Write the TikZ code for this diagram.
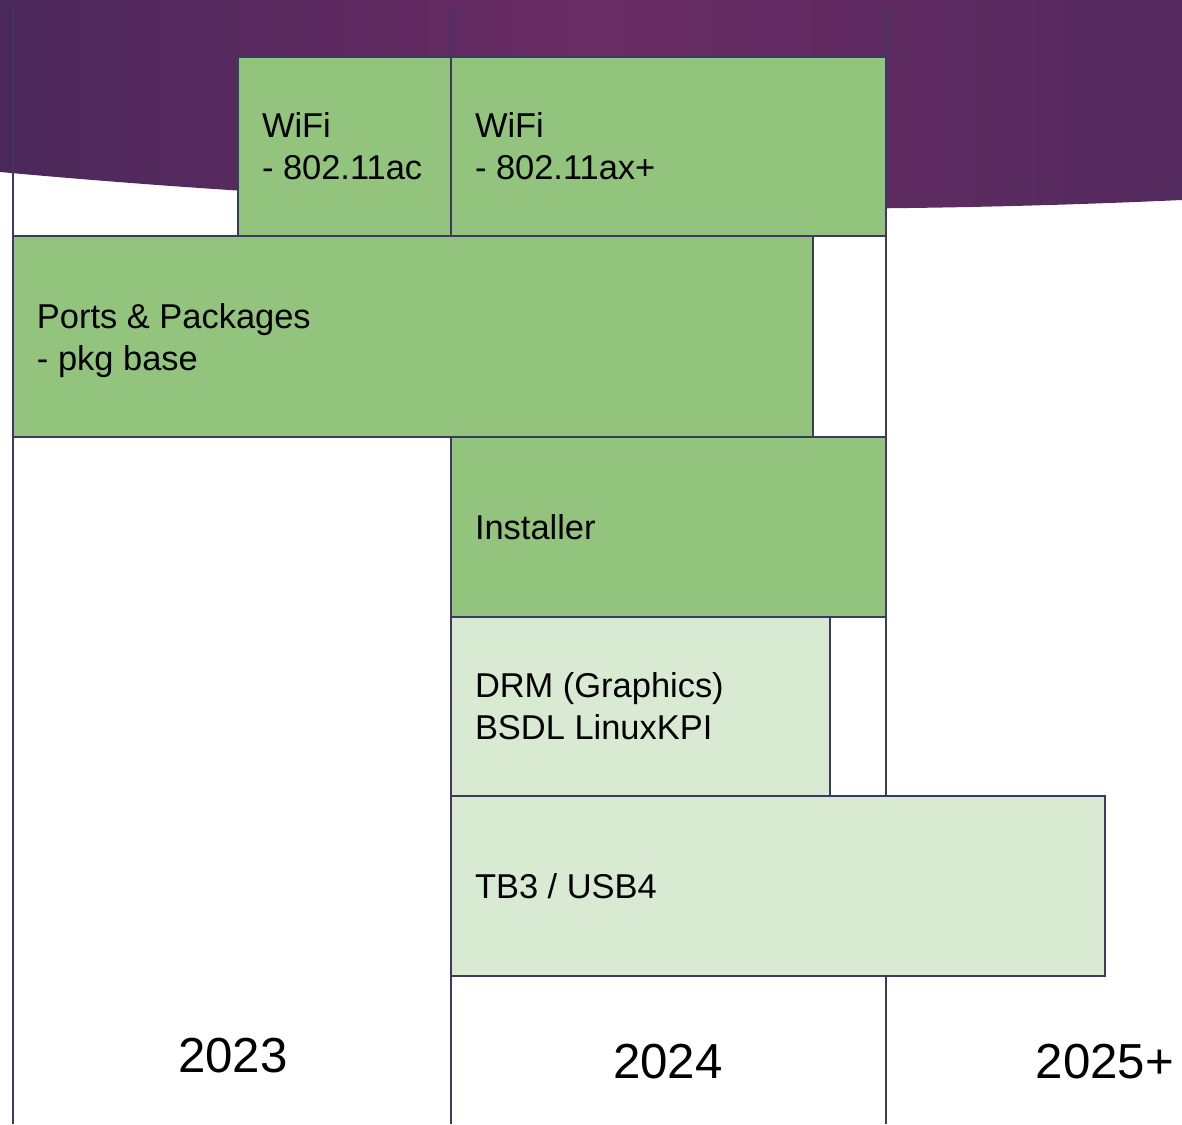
\documentclass[tikz,border=0pt]{standalone}
\usepackage{fontspec}
\setmainfont{Liberation Sans}
\usepackage{xcolor}
\usepackage{tikz}
\definecolor{bandleft}{HTML}{4B285A}
\definecolor{bandmid}{HTML}{6A2C65}
\definecolor{bandright}{HTML}{532A5E}
\definecolor{gridline}{HTML}{3D3A62}
\definecolor{darkgreen}{HTML}{93C47D}
\definecolor{lightgreen}{HTML}{D9EAD3}

\begin{document}
\begin{tikzpicture}[line width=1.1pt,
    every node/.style={font=\fontsize{19.6}{23.8}\selectfont}]

    \useasboundingbox (0,0) rectangle (23.64,22.48);

    % purple band at the top
    \shade[left color=bandleft, right color=bandright, middle color=bandmid]
    (0,22.48) -- (23.64,22.48) -- (23.64,18.48)
    .. controls (15.76,18.12) and (7.88,18.32) .. (0,19.04) -- cycle;

    % year columns
    \draw[gridline] (0.26,22.32) -- (0.26,0);
    \draw[gridline] (9.02,22.32) -- (9.02,0);
    \draw[gridline] (17.72,22.32) -- (17.72,0);

    \node[rectangle,
          draw = gridline,
          fill = darkgreen,
          minimum width = 4.26cm,
          minimum height = 3.58cm
          ] (wifiac) at (6.89,19.55) {};
    \node[anchor=west, align=left, inner sep=0] at ([xshift=0.48cm]wifiac.west) {WiFi\\- 802.11ac};

    \node[rectangle,
          draw = gridline,
          fill = darkgreen,
          minimum width = 8.7cm,
          minimum height = 3.58cm
          ] (wifiax) at (13.37,19.55) {};
    \node[anchor=west, align=left, inner sep=0] at ([xshift=0.48cm]wifiax.west) {WiFi\\- 802.11ax+};

    \node[rectangle,
          draw = gridline,
          fill = darkgreen,
          minimum width = 16cm,
          minimum height = 4.02cm
          ] (ports) at (8.26,15.75) {};
    \node[anchor=west, align=left, inner sep=0] at ([xshift=0.48cm,yshift=-0.08cm]ports.west) {Ports \& Packages\\- pkg base};

    \node[rectangle,
          draw = gridline,
          fill = darkgreen,
          minimum width = 8.7cm,
          minimum height = 3.6cm
          ] (installer) at (13.37,11.94) {};
    \node[anchor=west, inner sep=0] at ([xshift=0.48cm]installer.west) {Installer};

    \node[rectangle,
          draw = gridline,
          fill = lightgreen,
          minimum width = 7.58cm,
          minimum height = 3.58cm
          ] (drm) at (12.81,8.35) {};
    \node[anchor=west, align=left, inner sep=0] at ([xshift=0.48cm]drm.west) {DRM (Graphics)\\BSDL LinuxKPI};

    \node[rectangle,
          draw = gridline,
          fill = lightgreen,
          minimum width = 13.08cm,
          minimum height = 3.6cm
          ] (tbusb) at (15.56,4.76) {};
    \node[anchor=west, inner sep=0] at ([xshift=0.48cm]tbusb.west) {TB3 / USB4};

    % years
    \node[font=\fontsize{28}{34}\selectfont] (y2023) at (4.66,1.36) {2023};
    \node[font=\fontsize{28}{34}\selectfont] (y2024) at (13.36,1.24) {2024};
    \node[font=\fontsize{28}{34}\selectfont] (y2025) at (22.1,1.24) {2025+};

\end{tikzpicture}
\end{document}
